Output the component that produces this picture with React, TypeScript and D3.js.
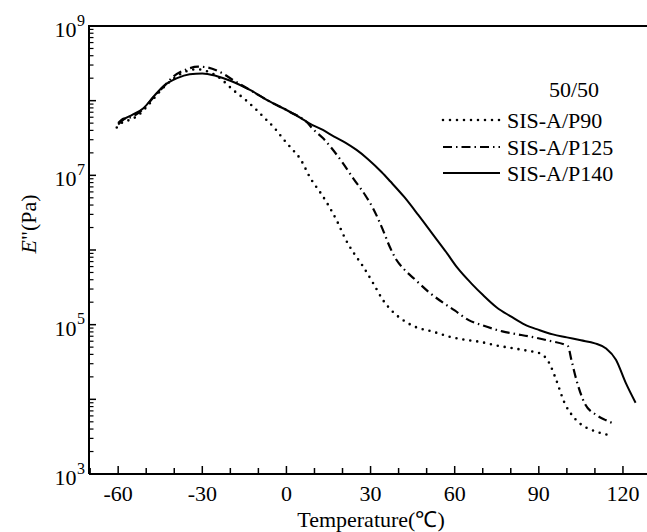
import React from "react";
import * as d3 from "d3";

const tP90 = [-60.5, -58, -56, -53, -50, -47, -44, -40, -36, -32, -28, -24, -19, -14.8, -11.3, -7.7, -4.2, -1, 1.8, 4.75, 8.9, 11.9, 14.3, 16.6, 18.4, 21, 24, 27.3, 31, 34.4, 38, 41.6, 46, 52.3, 58, 64.2, 69, 75, 80.8, 86, 90.3, 93.8, 96.2, 99.2, 102, 104.5, 107, 110.5, 116.4];
const eP90 = [4.37e7, 5.25e7, 5.5e7, 6.31e7, 8.13e7, 1.1e8, 1.48e8, 2.0e8, 2.45e8, 2.63e8, 2.45e8, 2.04e8, 1.39e8, 1.04e8, 7.91e7, 5.81e7, 4.27e7, 3.02e7, 2.29e7, 1.7e7, 8.71e6, 6.03e6, 4.37e6, 3.09e6, 2.29e6, 1.41e6, 9.12e5, 6.03e5, 3.55e5, 2.14e5, 1.48e5, 1.15e5, 9.33e4, 8.05e4, 6.92e4, 6.24e4, 5.89e4, 5.25e4, 4.83e4, 4.47e4, 4.14e4, 3.02e4, 1.82e4, 8.91e3, 6.03e3, 4.79e3, 4.17e3, 3.69e3, 3.23e3];

const tP125 = [-60, -58, -56, -53, -50, -47, -44, -40.4, -35.6, -31.5, -28.5, -24, -19, -13, -6, 1, 7, 10, 13, 16, 20, 24, 28, 31, 34.4, 37, 39.2, 42, 46, 51, 56, 60, 65, 70, 77, 81, 87, 93, 100.4, 101.6, 103.4, 106.3, 110.5, 114, 117];
const eP125 = [5.01e7, 5.75e7, 5.89e7, 6.76e7, 8.51e7, 1.15e8, 1.51e8, 2.09e8, 2.63e8, 2.85e8, 2.8e8, 2.45e8, 1.89e8, 1.39e8, 9.77e7, 7.16e7, 5.25e7, 3.98e7, 3.16e7, 2.34e7, 1.48e7, 8.91e6, 5.5e6, 3.55e6, 1.86e6, 1.07e6, 7.41e5, 5.5e5, 3.98e5, 2.69e5, 1.95e5, 1.55e5, 1.15e5, 9.77e4, 8.13e4, 7.59e4, 6.92e4, 6.17e4, 5.13e4, 3.39e4, 1.82e4, 8.91e3, 6.17e3, 5.25e3, 4.68e3];

const tP140 = [-60, -58, -55, -51, -47.5, -44, -39, -34.5, -30, -25, -20, -13, -6, 1, 5, 8, 13, 17, 21, 25, 29, 34, 37, 42, 47, 52, 57, 61, 66, 70, 75, 80, 85, 90, 95, 100, 105, 110, 114, 117.5, 121, 124.5];
const eP140 = [4.79e7, 5.62e7, 6.46e7, 7.94e7, 1.12e8, 1.55e8, 2.0e8, 2.26e8, 2.32e8, 2.14e8, 1.85e8, 1.39e8, 9.77e7, 7.16e7, 5.89e7, 5.01e7, 4.05e7, 3.31e7, 2.75e7, 2.19e7, 1.66e7, 1.1e7, 8.32e6, 5.13e6, 2.95e6, 1.66e6, 9.33e5, 5.75e5, 3.55e5, 2.51e5, 1.7e5, 1.29e5, 1.0e5, 8.51e4, 7.41e4, 6.76e4, 6.17e4, 5.62e4, 4.79e4, 3.39e4, 1.66e4, 9.0e3];

const seriesNames = ["SIS-A/P90", "SIS-A/P125", "SIS-A/P140"];
const legendTitle = "50/50";
const xTicks = [-60, -30, 0, 30, 60, 90, 120];
const yLabelExps = [3, 5, 7, 9];

const W = 647;
const H = 532;
const FONT = "'Liberation Serif', 'Times New Roman', serif";

export default function App() {
  const x = d3.scaleLinear().domain([-70.4, 130]).range([89, 651]);
  const y = d3.scaleLog().domain([1e3, 1e9]).range([474, 26]);
  const line = d3
    .line<[number, number]>()
    .x((d) => x(d[0]))
    .y((d) => y(d[1]))
    .curve(d3.curveMonotoneX);

  const series = [
    { t: tP90, e: eP90, dash: "0 7", width: 2.6, cap: "round" as const },
    { t: tP125, e: eP125, dash: "9 4 1.5 4", width: 2.2, cap: "butt" as const },
    { t: tP140, e: eP140, dash: "none", width: 2, cap: "butt" as const },
  ];

  const minorX = d3.range(-70, 131, 10).filter((v) => v % 30 !== 0);
  const majorY = d3.range(3, 10).map((e) => Math.pow(10, e));
  const minorY: number[] = [];
  for (let e = 3; e < 9; e++) for (let k = 2; k <= 9; k++) minorY.push(k * Math.pow(10, e));

  const x0 = 89;
  const y0 = 474;
  const legendRows = [120, 147, 173];

  return (
    <svg width={W} height={H} style={{ position: "absolute", left: 0, top: 0, background: "#fff" }} fontFamily={FONT}>
      <rect x={0} y={0} width={W} height={H} fill="#fff" />
      {series.map((s, i) => (
        <path
          key={i}
          d={line(s.t.map((t, j) => [t, s.e[j]] as [number, number])) || ""}
          fill="none"
          stroke="#000"
          strokeWidth={s.width}
          strokeDasharray={s.dash}
          strokeLinecap={s.cap}
          strokeLinejoin="round"
        />
      ))}
      <line x1={x0} x2={x0} y1={26} y2={y0} stroke="#000" strokeWidth={2} />
      <line x1={x0} x2={651} y1={y0} y2={y0} stroke="#000" strokeWidth={2} />
      <line x1={x0 - 1} x2={651} y1={26} y2={26} stroke="#000" strokeWidth={2.2} />
      <line x1={651} x2={651} y1={26} y2={y0} stroke="#000" strokeWidth={2} />
      {xTicks.map((v) => (
        <g key={"xt" + v}>
          <line x1={x(v)} x2={x(v)} y1={y0} y2={y0 - 8} stroke="#000" strokeWidth={1.5} />
          <text x={x(v)} y={501} textAnchor="middle" fontSize={22} fill="#000">
            {v}
          </text>
        </g>
      ))}
      {minorX.map((v) => (
        <line key={"xm" + v} x1={x(v)} x2={x(v)} y1={y0} y2={y0 - 6} stroke="#000" strokeWidth={1.5} />
      ))}
      {majorY.map((v) => (
        <line key={"ym" + v} x1={x0} x2={x0 + 7} y1={y(v)} y2={y(v)} stroke="#000" strokeWidth={1.5} />
      ))}
      {minorY.map((v) => (
        <line key={"yn" + v} x1={x0} x2={x0 + 4.5} y1={y(v)} y2={y(v)} stroke="#000" strokeWidth={1.2} />
      ))}
      {yLabelExps.map((e) => (
        <g key={"yl" + e}>
          <text x={76.5} y={y(Math.pow(10, e)) + 11} textAnchor="end" fontSize={22} fill="#000">
            10
          </text>
          <text x={77} y={y(Math.pow(10, e)) - 0.5} textAnchor="start" fontSize={16} fill="#000">
            {e}
          </text>
        </g>
      ))}
      <text x={371} y={527} textAnchor="middle" fontSize={22} fill="#000">
        Temperature(℃)
      </text>
      <text transform="translate(36,224) rotate(-90)" textAnchor="middle" fontSize={22} fill="#000">
        <tspan fontStyle="italic">E</tspan>"(Pa)
      </text>
      <text x={574} y={97} textAnchor="middle" fontSize={22} fill="#000">
        {legendTitle}
      </text>
      {seriesNames.map((n, i) => (
        <g key={n}>
          <line
            x1={443}
            x2={500}
            y1={legendRows[i]}
            y2={legendRows[i]}
            stroke="#000"
            strokeWidth={series[i].width}
            strokeDasharray={series[i].dash}
            strokeLinecap={series[i].cap}
          />
          <text x={507} y={legendRows[i] + 7.5} fontSize={22} fill="#000">
            {n}
          </text>
        </g>
      ))}
    </svg>
  );
}
